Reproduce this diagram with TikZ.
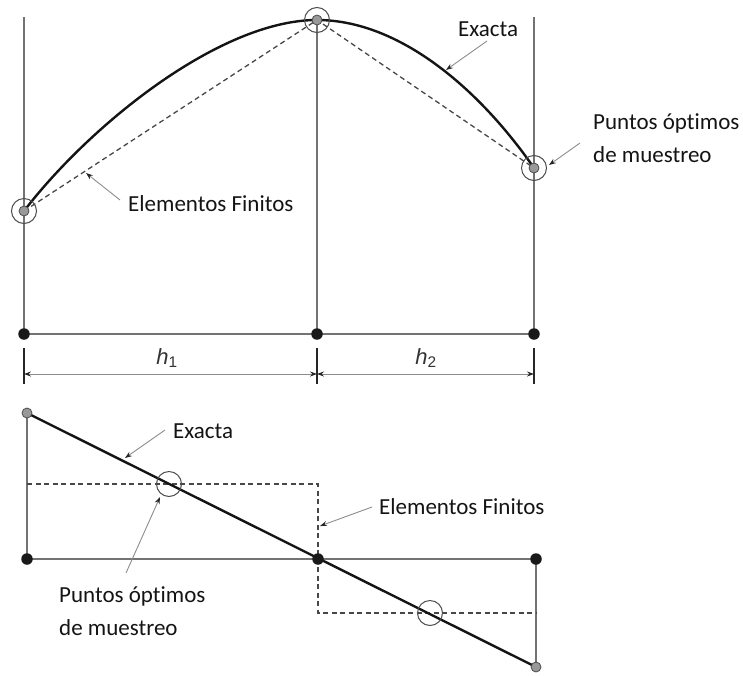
\documentclass[tikz,border=0pt]{standalone}
\usepackage{fontspec}
\setmainfont{Carlito}[Ligatures=CommonOff]
\newfontfamily\hfont{Liberation Sans}
\usetikzlibrary{arrows.meta}
\begin{document}
\begin{tikzpicture}[x=1pt,y=-1pt,
  guide/.style={draw=black!55, line width=1.4pt},
  exact/.style={draw=black!92, line width=2.4pt},
  fem/.style={draw=black!72, line width=1.3pt, dash pattern=on 5pt off 3.5pt},
  callout/.style={draw=black!45, line width=0.9pt, -{Stealth[length=7pt,width=5pt,black!85]}},
  dimline/.style={draw=black!45, line width=0.9pt, {Stealth[length=7pt,width=5pt,black!85]}-{Stealth[length=7pt,width=5pt,black!85]}},
  tick/.style={draw=black!85, line width=1.3pt},
  lbl/.style={font=\fontsize{23}{33}\selectfont, text=black!92, inner sep=0, anchor=west, align=left},
  hlbl/.style={font=\hfont\fontsize{22}{24}\selectfont, text=black!80, inner sep=0},
  blacknode/.style={circle, fill=black!90, minimum size=11.5pt, inner sep=0},
  graynode/.style={circle, fill=black!40, draw=black!70, line width=0.8pt, minimum size=10pt, inner sep=0},
  ring/.style={circle, draw=black!70, line width=1pt, minimum size=25pt, inner sep=0}]
\useasboundingbox (0,0) rectangle (743,675);

% ---------- top panel ----------
\coordinate (TL) at (24,17);
\coordinate (TR) at (534,17);
\coordinate (N1) at (24,334);
\coordinate (N2) at (317,334);
\coordinate (N3) at (534,334);
\coordinate (S1) at (24,211);
\coordinate (S2) at (317,20);
\coordinate (S3) at (534,168);

\draw[guide] (TL) -- (N1);
\draw[guide] (S2) -- (N2);
\draw[guide] (TR) -- (N3);
\draw[guide] (N1) -- (N3);

\draw[fem] (S1) -- (S2) -- (S3);
\draw[exact] (S1) .. controls (90,125) and (220,20) .. (S2)
                  .. controls (400,20) and (480,90) .. (S3);

\node[ring] (R1) at (S1) {};
\node[ring] (R2) at (S2) {};
\node[ring] (R3) at (S3) {};
\node[graynode] (G1) at (S1) {};
\node[graynode] (G2) at (S2) {};
\node[graynode] (G3) at (S3) {};
\node[blacknode] (K1) at (N1) {};
\node[blacknode] (K2) at (N2) {};
\node[blacknode] (K3) at (N3) {};

% dimensions
\coordinate (D1t) at (24,348); \coordinate (D1b) at (24,384);
\coordinate (D2t) at (317,348); \coordinate (D2b) at (317,384);
\coordinate (D3t) at (534,348); \coordinate (D3b) at (534,384);
\draw[tick] (D1t) -- (D1b);
\draw[tick] (D2t) -- (D2b);
\draw[tick] (D3t) -- (D3b);
\coordinate (A1) at (24,374);
\coordinate (A2) at (317,374);
\coordinate (A3) at (534,374);
\draw[dimline] (A1) -- (A2);
\draw[dimline] (A2) -- (A3);
\node[hlbl] (h1) at (167,358) {\textit{h}\textsubscript{1}};
\node[hlbl] (h2) at (426,358) {\textit{h}\textsubscript{2}};

% labels top
\node[lbl] (EF1) at (128,204) {Elementos Finitos};
\node[lbl] (EX1) at (458,29) {Exacta};
\node[lbl] (PO1) at (593,138) {Puntos óptimos\\de muestreo};
\coordinate (c1s) at (120,200); \coordinate (c1e) at (86,173);
\coordinate (c2s) at (487,41);  \coordinate (c2e) at (446,70);
\coordinate (c3s) at (580,143); \coordinate (c3e) at (549,165);
\draw[callout] (c1s) -- (c1e);
\draw[callout] (c2s) -- (c2e);
\draw[callout] (c3s) -- (c3e);

% ---------- bottom panel ----------
\coordinate (B1) at (27,413);
\coordinate (B0) at (27,559);
\coordinate (BM) at (318,559);
\coordinate (BR) at (536,559);
\coordinate (B2) at (536,667);
\coordinate (F1) at (27,484);
\coordinate (F2) at (318,484);
\coordinate (F3) at (318,613);
\coordinate (F4) at (536,613);
\coordinate (O1) at (169,484);
\coordinate (O2) at (430,613);

\draw[guide] (B1) -- (B0);
\draw[guide] (B0) -- (BR);
\draw[guide] (BR) -- (B2);
\draw[fem] (F1) -- (F2) -- (F3) -- (F4);
\draw[exact] (B1) -- (B2);

\node[ring] (RO1) at (O1) {};
\node[ring] (RO2) at (O2) {};
\node[graynode] (GB1) at (B1) {};
\node[graynode] (GB2) at (B2) {};
\node[blacknode] (KB0) at (B0) {};
\node[blacknode] (KBM) at (BM) {};
\node[blacknode] (KBR) at (BR) {};

% labels bottom
\node[lbl] (EX2) at (173,431) {Exacta};
\node[lbl] (PO2) at (59,611) {Puntos óptimos\\de muestreo};
\node[lbl] (EF2) at (379,507) {Elementos Finitos};
\coordinate (c4s) at (165,430); \coordinate (c4e) at (125,458);
\coordinate (c5s) at (126,573); \coordinate (c5e) at (160,497);
\coordinate (c6s) at (372,507); \coordinate (c6e) at (320,526);
\draw[callout] (c4s) -- (c4e);
\draw[callout] (c5s) -- (c5e);
\draw[callout] (c6s) -- (c6e);
\end{tikzpicture}
\end{document}
